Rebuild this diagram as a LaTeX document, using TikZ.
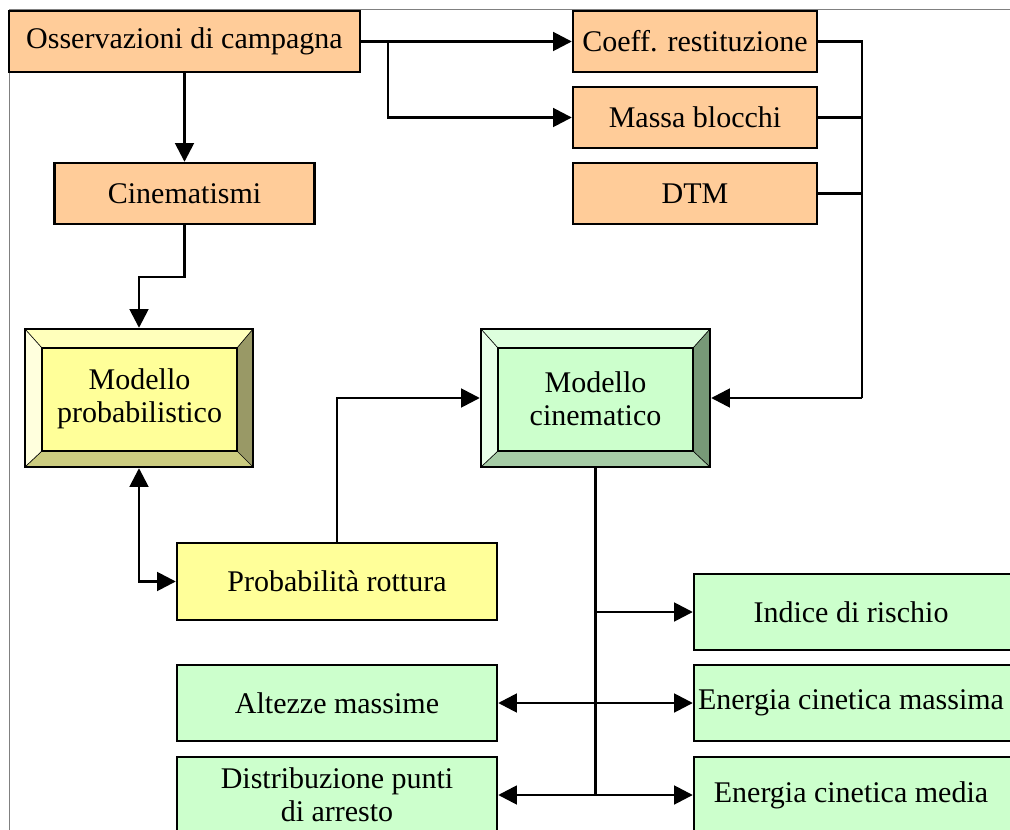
\documentclass[tikz,border=0pt]{standalone}
\usepackage{fontspec}
\setmainfont{Liberation Serif}
\usetikzlibrary{arrows.meta}
\definecolor{peach}{HTML}{FFCC99}
\definecolor{lyellow}{HTML}{FFFF99}
\definecolor{lgreen}{HTML}{CCFFCC}
\definecolor{ytop}{HTML}{FFFFBB}
\definecolor{yleft}{HTML}{FFFFDD}
\definecolor{yright}{HTML}{999966}
\definecolor{ybot}{HTML}{CCCC80}
\definecolor{gtop}{HTML}{DDFFDD}
\definecolor{gleft}{HTML}{E8FFE8}
\definecolor{gright}{HTML}{779977}
\definecolor{gbot}{HTML}{A6CCA6}
\tikzset{
  sz/.style 2 args={minimum width=#1*0.75pt, minimum height=#2*0.75pt},
  box/.style={draw=black, line width=1.8pt, inner sep=0pt, align=center,
    font=\fontsize{22.5}{25}\selectfont},
  orange/.style={box, fill=peach},
  yellowbox/.style={box, fill=lyellow},
  greenbox/.style={box, fill=lgreen},
  conn/.style={line width=2pt, draw=black},
  tip/.tip={Triangle[length=14pt,width=14pt]},
  bevline/.style={line width=0.5pt, draw=black},
  txt/.style={align=center, font=\fontsize{22.5}{25}\selectfont, inner sep=0pt}
}
\begin{document}
\begin{tikzpicture}[x=0.75pt, y=-0.75pt]
\useasboundingbox[fill=white] (0,0) rectangle (1010,830);
% frame
\draw[gray, line width=0.75pt] (9,830) -- (9,10) -- (1010,10);

% top orange boxes
\node[orange, sz={351}{61}] (oss) at (184.5,41.5) {Osservazioni di campagna};
\node[orange, sz={244}{61}] (coeff) at (695,41.5) {Coeff. restituzione};
\node[orange, sz={244}{61}] (massa) at (695,117.5) {Massa blocchi};
\node[orange, sz={244}{61}] (dtm) at (695,193.5) {DTM};
\node[orange, sz={260}{61}] (cinem) at (184.5,193.5) {Cinematismi};

% bevel box: Modello probabilistico
\fill[ytop] (25,329) -- (253,329) -- (237,348) -- (42,348) -- cycle;
\fill[yleft] (25,329) -- (42,348) -- (42,451) -- (25,467) -- cycle;
\fill[yright] (253,329) -- (253,467) -- (237,451) -- (237,348) -- cycle;
\fill[ybot] (25,467) -- (253,467) -- (237,451) -- (42,451) -- cycle;
\draw[bevline] (25,329) -- (42,348) (253,329) -- (237,348) (25,467) -- (42,451) (253,467) -- (237,451);
\draw[line width=1.8pt, fill=lyellow] (42,348) rectangle (237,451);
\node[draw=black, line width=1.8pt, sz={228}{138}] (mp) at (139,398) {};
\node[txt] (mptxt) at (139.5,399) {Modello\\probabilistico};

% bevel box: Modello cinematico
\fill[gtop] (481,329) -- (710,329) -- (693,348) -- (498,348) -- cycle;
\fill[gleft] (481,329) -- (498,348) -- (498,451) -- (481,467) -- cycle;
\fill[gright] (710,329) -- (710,467) -- (693,451) -- (693,348) -- cycle;
\fill[gbot] (481,467) -- (710,467) -- (693,451) -- (498,451) -- cycle;
\draw[bevline] (481,329) -- (498,348) (710,329) -- (693,348) (481,467) -- (498,451) (710,467) -- (693,451);
\draw[line width=1.8pt, fill=lgreen] (498,348) rectangle (693,451);
\node[draw=black, line width=1.8pt, sz={229}{138}] (mc) at (595.5,398) {};
\node[txt] (mctxt) at (595.5,399) {Modello\\cinematico};

% lower boxes
\node[yellowbox, sz={320}{77}] (prob) at (337,581.5) {Probabilità rottura};
\node[greenbox, sz={324}{76}] (indice) at (856,612) {Indice di rischio\hspace*{7.5pt}};
\node[greenbox, sz={324}{76}] (emax) at (856,703) {Energia cinetica massima\hspace*{7.5pt}};
\node[greenbox, sz={324}{76}] (emed) at (856,795) {Energia cinetica media\hspace*{7.5pt}};
\node[greenbox, sz={320}{76}] (alt) at (337,703) {Altezze massime};
\node[greenbox, sz={320}{76}] (dist) at (337,795) {Distribuzione punti\\di arresto};

% connectors
\coordinate (b1) at (388,41.5);
\coordinate (bus) at (862,398);
\coordinate (c2) at (139,277);
\draw[conn,-tip] (oss.east) -- (coeff.west);
\draw[conn,-tip] (b1) |- (massa.west);
\draw[conn,-tip] (oss.south) -- (oss.south |- cinem.north);
\draw[conn,-tip] (cinem.south) |- (c2) -- (mp.north);
\draw[conn] (coeff.east) -| (bus);
\draw[conn] (massa.east) -- (massa.east -| bus);
\draw[conn] (dtm.east) -- (dtm.east -| bus);
\draw[conn,-tip] (bus) -- (mc.east);
\draw[conn,-tip] (prob.north) |- (mc.west);
\draw[conn,tip-tip] (mp.south) |- (prob.west);
\draw[conn] (mc.south) -- (mc.south |- emed.west);
\draw[conn,-tip] (mc.south |- indice.west) -- (indice.west);
\draw[conn,tip-tip] (alt.east) -- (emax.west);
\draw[conn,tip-tip] (dist.east) -- (emed.west);
\end{tikzpicture}
\end{document}
